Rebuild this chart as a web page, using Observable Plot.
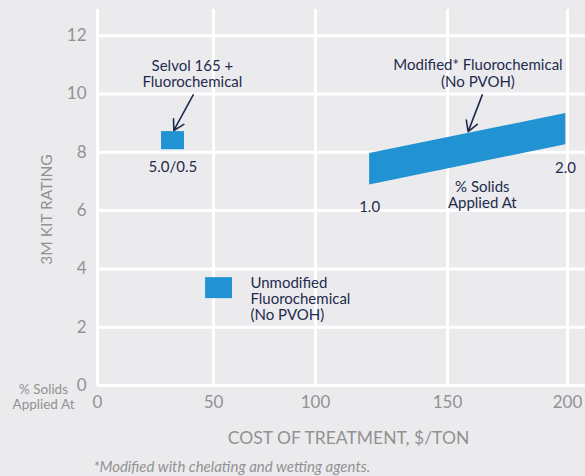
<!DOCTYPE html>
<html>
<head>
<meta charset="utf-8">
<script src="https://cdn.jsdelivr.net/npm/d3@7"></script>
<script src="https://cdn.jsdelivr.net/npm/@observablehq/plot@0.6"></script>
<style>
  html, body { margin: 0; padding: 0; background: #ebebee; }
  #chart svg { display: block; }
</style>
</head>
<body>
<div id="chart"></div>
<script>
// ---- data ----
const xTicks = [0, 50, 100, 150, 200];
const yTicks = [0, 2, 4, 6, 8, 10, 12];

// single-point products (cost range, rating range)
const boxNames = ["Selvol 165 + Fluorochemical", "Unmodified Fluorochemical"];
const boxCostLo = [27.6, 46.6];
const boxCostHi = [37.5, 59.3];
const boxRatingLo = [8.09, 2.98];
const boxRatingHi = [8.71, 3.70];

// modified fluorochemical band (1.0 -> 2.0 % solids)
const bandCost = [120.5, 199.3];
const bandRatingLo = [6.88, 8.26];
const bandRatingHi = [7.96, 9.33];

// annotation labels
const labelText = ["Selvol 165 +\nFluorochemical", "5.0/0.5", "Modified* Fluorochemical\n(No PVOH)", "1.0", "2.0", "% Solids\nApplied At"];
const labelCost = [40.9, 32.5, 162.7, 120.5, 199.2, 164.5];
const labelRating = [10.70, 7.49, 10.71, 6.14, 7.46, 6.54];
const sideText = ["Unmodified\nFluorochemical\n(No PVOH)"];
const sideCost = [68.1];
const sideRating = [2.97];

// arrows
const arrowFromCost = [41.25, 164.5];
const arrowFromRating = [9.97, 9.97];
const arrowToCost = [32.9, 158.6];
const arrowToRating = [8.75, 8.71];

// ---- tables ----
const boxes = boxNames.map((n, i) => ({n, x1: boxCostLo[i], x2: boxCostHi[i], y1: boxRatingLo[i], y2: boxRatingHi[i]}));
const band = bandCost.map((x, i) => ({x, lo: bandRatingLo[i], hi: bandRatingHi[i]}));
const labels = labelText.map((t, i) => ({t, x: labelCost[i], y: labelRating[i]}));
const sides = sideText.map((t, i) => ({t, x: sideCost[i], y: sideRating[i]}));
const arrows = arrowFromCost.map((x, i) => ({x1: x, y1: arrowFromRating[i], x2: arrowToCost[i], y2: arrowToRating[i]}));

const navy = "#1f2b4d";
const blue = "#2193d3";
const gray = "#929292";
const tickFont = "'Liberation Sans Narrow', 'Lato', sans-serif";

const chart = Plot.plot({
  width: 585,
  height: 476,
  marginLeft: 97,
  marginRight: 0,
  marginTop: 9,
  marginBottom: 91,
  style: {background: "transparent", fontFamily: "Lato, sans-serif", overflow: "visible"},
  x: {type: "linear", domain: [0, 50, 100, 150, 200, 207.5], range: [97, 213, 315, 447, 567, 585]},
  y: {domain: [0, 12.9]},
  marks: [
    Plot.gridY(yTicks, {stroke: "white", strokeOpacity: 1, strokeWidth: 3}),
    Plot.gridX(xTicks, {stroke: "white", strokeOpacity: 1, strokeWidth: 3}),
    Plot.axisY(yTicks, {tickSize: 0, tickPadding: 11, fontSize: 17, fill: gray, fontFamily: tickFont, label: null}),
    Plot.axisX(xTicks, {tickSize: 0, tickPadding: 10, fontSize: 17, fill: gray, fontFamily: tickFont, label: null}),
    Plot.rect(boxes, {x1: "x1", x2: "x2", y1: "y1", y2: "y2", fill: blue}),
    Plot.areaY(band, {x: "x", y1: "lo", y2: "hi", fill: blue}),
    Plot.arrow(arrows, {x1: "x1", y1: "y1", x2: "x2", y2: "y2", stroke: navy, strokeWidth: 1.6, headLength: 11}),
    Plot.text(labels, {x: "x", y: "y", text: "t", fill: navy, fontSize: 15, lineHeight: 1.08, textAnchor: "middle"}),
    Plot.text(sides, {x: "x", y: "y", text: "t", fill: navy, fontSize: 15, lineHeight: 1.06, textAnchor: "start"}),
    Plot.text(["% Solids\nApplied At"], {frameAnchor: "bottom-left", lineAnchor: "middle", dx: -54, dy: 11, fill: gray, fontSize: 13.5, lineHeight: 1.12, textAnchor: "middle"}),
    Plot.text(["COST OF TREATMENT, $/TON"], {frameAnchor: "bottom", lineAnchor: "middle", dx: 7, dy: 53, fill: gray, fontSize: 17.5}),
    Plot.text(["3M KIT RATING"], {frameAnchor: "left", lineAnchor: "middle", textAnchor: "middle", dx: -50, dy: 12, rotate: -90, fill: gray, fontSize: 15.5}),
    Plot.text(["*Modified with chelating and wetting agents."], {frameAnchor: "bottom-left", lineAnchor: "middle", dx: -4, dy: 82, textAnchor: "start", fontStyle: "italic", fill: gray, fontSize: 15})
  ]
});
document.getElementById("chart").append(chart);
</script>
</body>
</html>
